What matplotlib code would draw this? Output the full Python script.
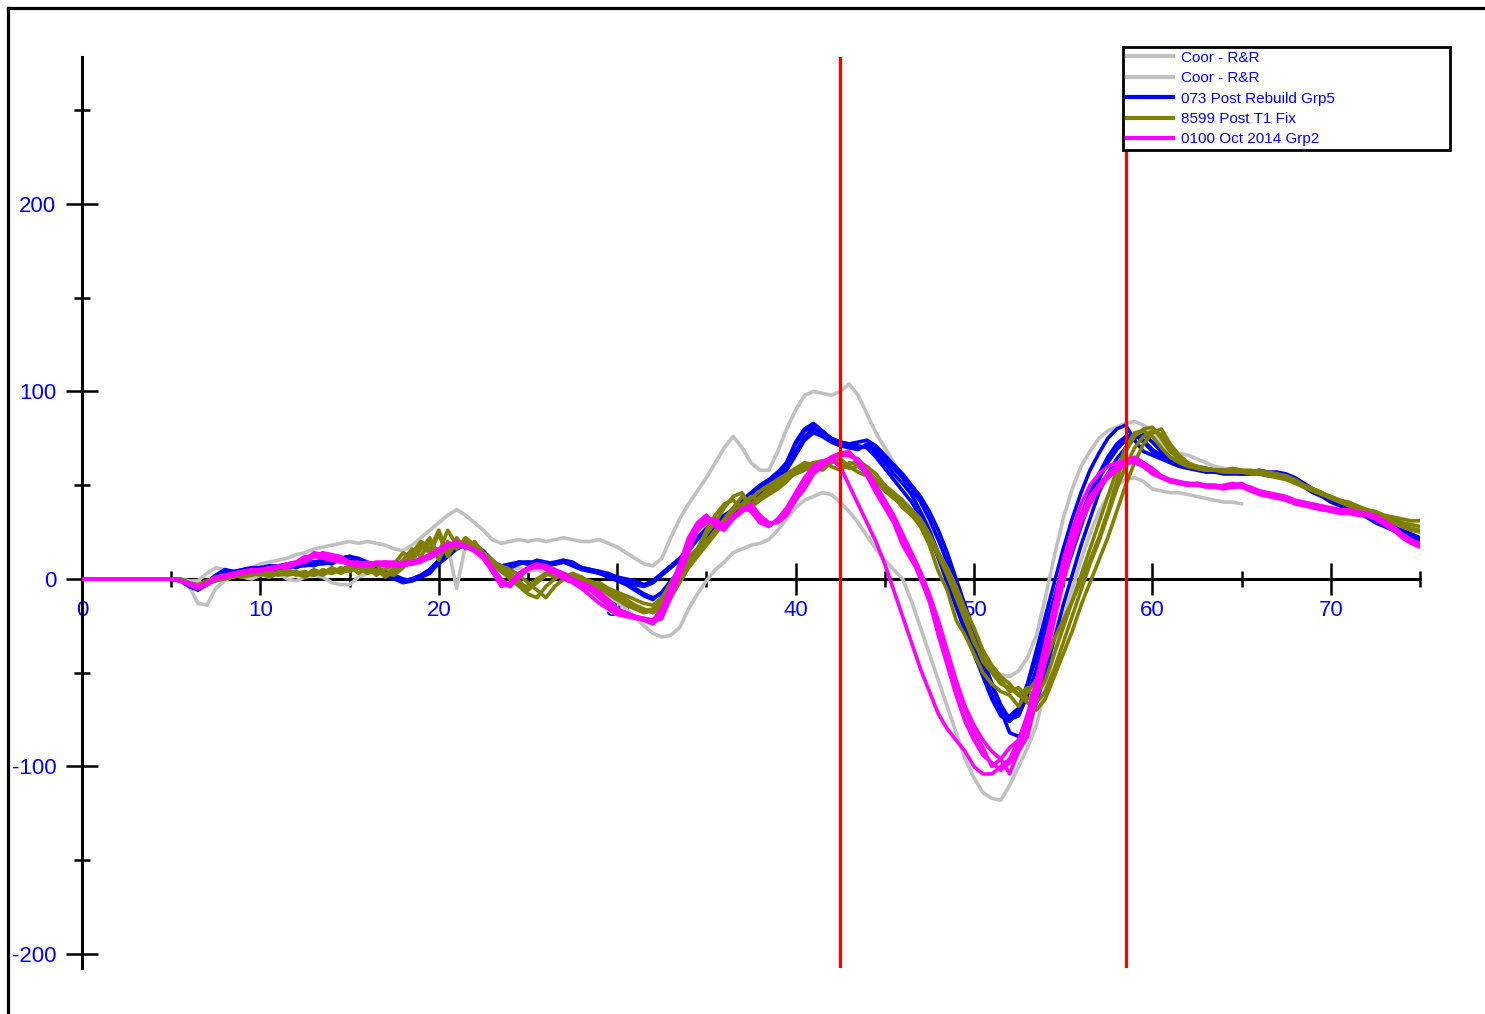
import numpy as np
import matplotlib
matplotlib.use('Agg')
import matplotlib.pyplot as plt
from matplotlib.lines import Line2D
from matplotlib.ticker import MultipleLocator, FormatStrFormatter

plt.rcParams['font.family'] = ['Liberation Sans', 'DejaVu Sans']
plt.rcParams['axes.unicode_minus'] = False

# ---------------- data (values sampled every 0.5 from x = 5; flat 0 before) -------------
X_START = 5.0
X_STEP = 0.5

LABELS = ["Coor - R&R", "Coor - R&R", "073 Post Rebuild Grp5", "8599 Post T1 Fix", "0100 Oct 2014 Grp2"]
COLORS = ["#c0c0c0", "#c0c0c0", "#0000ff", "#808000", "#ff00ff"]

coor_upper = [
    0, 0, -1, -1, 3, 6, 5, 4, 5, 6,
    8, 9, 10, 11, 13, 14, 16, 17, 18, 19,
    20, 19, 20, 19, 18, 16, 15, 18, 22, 26,
    30, 34, 37, 34, 30, 26, 21, 19, 20, 21,
    20, 21, 20, 21, 22, 21, 20, 20, 21, 19,
    17, 14, 11, 8, 7, 11, 22, 32, 40, 47,
    54, 62, 70, 76, 70, 62, 58, 58, 68, 80,
    90, 98, 100, 99, 98, 100, 104, 98, 88, 78,
    70, 62, 54, 45, 36, 28, 21, 8, -8, -24,
    -36, -45, -49, -51, -52, -49, -42, -30, -10, 12,
    32, 48, 60, 68, 75, 79, 81, 83, 84, 82,
    78, 72, 68, 67, 66, 64, 62, 60, 59, 58,
    58, 57]

coor_lower = [
    0, -1, -4, -13, -14, -5, -1, 2, 1, 0,
    2, 1, 3, 0, -1, 1, 2, 1, -2, -3,
    -3, 1, 3, 5, 7, 9, 11, 13, 14, 16,
    16, 18, -5, 18, 14, 10, 6, 4, 5, 6,
    4, 5, 3, 4, 2, 0, -2, -4, -7, -10,
    -12, -16, -20, -25, -29, -31, -30, -26, -16, -8,
    -1, 5, 9, 14, 16, 18, 19, 21, 26, 32,
    38, 42, 44, 46, 45, 41, 36, 30, 23, 16,
    10, 5, 0, -12, -26, -40, -54, -68, -82, -96,
    -106, -114, -117, -118, -110, -100, -90, -78, -58, -40,
    -22, -6, 10, 24, 36, 44, 50, 53, 54, 52,
    48, 47, 46, 46, 45, 44, 43, 42, 41, 41,
    40]

blue_1 = [
    0, -1, -3, -5, -2, 2, 4, 3, 4, 5,
    5, 6, 5, 7, 6, 8, 7, 9, 8, 11,
    12, 9, 7, 5, 3, 1, -1, 0, 2, 5,
    10, 14, 17, 19, 17, 13, 8, 6, 7, 9,
    8, 9, 7, 8, 9, 7, 5, 4, 3, 2,
    0, -1, -3, -4, -2, 2, 6, 10, 15, 21,
    27, 30, 33, 36, 41, 45, 48, 51, 56, 62,
    72, 79, 81, 78, 74, 72, 71, 70, 71, 67,
    62, 56, 51, 45, 36, 26, 14, 1, -12, -24,
    -36, -48, -62, -72, -73, -69, -56, -42, -26, -10,
    7, 20, 34, 46, 56, 65, 72, 76, 77, 73,
    68, 65, 63, 61, 60, 59, 58, 58, 57, 57,
    56, 56, 57, 56, 56, 55, 53, 50, 47, 45,
    42, 40, 38, 36, 34, 31, 29, 27, 25, 23,
    21]

blue_2 = [
    0, -1, -4, -6, -3, 1, 3, 4, 3, 4,
    4, 5, 6, 6, 7, 7, 8, 8, 9, 10,
    11, 10, 8, 6, 4, 2, 0, -1, 1, 4,
    8, 12, 16, 18, 18, 14, 9, 5, 6, 8,
    9, 8, 8, 9, 10, 8, 6, 5, 4, 2,
    1, -2, -5, -8, -10, -8, -3, 2, 8, 14,
    20, 26, 30, 34, 38, 42, 46, 50, 54, 58,
    66, 74, 78, 76, 73, 71, 70, 69, 72, 69,
    64, 59, 54, 48, 41, 32, 21, 9, -4, -17,
    -30, -43, -56, -67, -75, -73, -62, -48, -32, -16,
    0, 14, 28, 42, 53, 62, 69, 74, 77, 74,
    69, 66, 63, 61, 60, 59, 59, 58, 58, 58,
    57, 57, 57, 57, 57, 56, 54, 51, 48, 46,
    43, 41, 39, 37, 35, 32, 30, 28, 26, 24,
    22]

blue_3 = [
    0, 0, -2, -5, -2, 2, 5, 4, 5, 6,
    6, 7, 7, 8, 8, 9, 9, 10, 10, 11,
    12, 11, 9, 6, 3, 1, -1, 0, 2, 5,
    10, 14, 17, 19, 17, 13, 9, 7, 8, 9,
    8, 10, 9, 8, 9, 8, 6, 5, 4, 3,
    1, 0, -1, -3, -1, 3, 7, 11, 16, 22,
    27, 31, 34, 37, 42, 46, 50, 53, 57, 62,
    73, 80, 83, 79, 75, 73, 72, 71, 70, 65,
    59, 53, 47, 41, 33, 23, 11, -2, -15, -28,
    -40, -52, -64, -73, -76, -70, -56, -38, -20, -2,
    16, 32, 46, 58, 67, 75, 80, 82, 74, 68,
    66, 64, 62, 60, 59, 58, 57, 57, 56, 56,
    56, 56, 56, 55, 55, 54, 52, 49, 46, 44,
    41, 39, 37, 35, 33, 30, 28, 26, 24, 22,
    20]

blue_4 = [
    0, -1, -3, -5, -3, 1, 3, 3, 4, 5,
    5, 5, 6, 7, 7, 8, 9, 9, 10, 11,
    12, 10, 7, 5, 2, 0, -2, -1, 1, 3,
    9, 13, 17, 19, 18, 15, 10, 6, 7, 9,
    9, 9, 8, 8, 10, 9, 6, 5, 3, 1,
    -1, -3, -6, -9, -11, -7, -1, 4, 10, 16,
    23, 28, 31, 35, 39, 43, 47, 51, 55, 59,
    68, 76, 80, 78, 75, 73, 72, 73, 74, 71,
    66, 61, 56, 50, 44, 36, 26, 14, 0, -14,
    -28, -42, -56, -70, -82, -84, -80, -66, -50, -32,
    -14, 2, 18, 32, 46, 56, 64, 70, 75, 77,
    73, 68, 65, 62, 61, 60, 59, 58, 58, 57,
    57, 57, 58, 57, 56, 55, 53, 50, 47, 45,
    42, 40, 38, 36, 34, 31, 29, 27, 25, 23,
    21]

olive_1 = [
    0, -1, -3, -4, -2, 0, 1, 2, 2, 3,
    3, 2, 4, 2, 3, 1, 4, 2, 5, 3,
    5, 7, 4, 8, 2, 6, 10, 16, 12, 20,
    14, 26, 18, 20, 16, 14, 10, 6, 3, -1,
    -6, -2, 2, 4, 1, 3, 1, -2, -4, -6,
    -10, -13, -15, -17, -16, -12, -4, 5, 10, 13,
    24, 30, 38, 44, 46, 38, 42, 45, 48, 52,
    57, 60, 62, 63, 60, 58, 62, 61, 58, 53,
    47, 44, 38, 34, 28, 18, 4, -6, -22, -30,
    -40, -50, -56, -60, -62, -68, -60, -54, -44, -32,
    -22, -12, -1, 10, 22, 36, 52, 68, 76, 80,
    81, 75, 68, 64, 61, 60, 59, 58, 58, 59,
    58, 57, 58, 56, 56, 55, 53, 50, 48, 46,
    43, 42, 40, 38, 37, 35, 33, 32, 30, 29,
    28]

olive_2 = [
    0, -1, -2, -4, -3, -1, 0, 1, 3, 2,
    3, 1, 3, 4, 2, 3, 2, 5, 3, 6,
    4, 6, 3, 5, 1, 4, 8, 12, 18, 14,
    24, 12, 20, 18, 15, 12, 9, 7, 5, 2,
    -2, -6, -10, -4, 0, 2, 0, -1, -3, -6,
    -8, -11, -14, -16, -18, -16, -10, -2, 6, 12,
    18, 24, 30, 36, 40, 44, 42, 46, 50, 54,
    56, 58, 60, 62, 64, 60, 61, 63, 60, 56,
    50, 46, 42, 37, 32, 24, 14, 4, -8, -20,
    -32, -44, -50, -56, -58, -62, -66, -70, -64, -52,
    -40, -28, -14, -2, 10, 22, 36, 50, 62, 72,
    78, 80, 72, 66, 62, 60, 59, 58, 58, 57,
    58, 58, 57, 57, 56, 54, 52, 49, 47, 45,
    43, 41, 39, 37, 36, 34, 32, 30, 28, 26,
    25]

olive_3 = [
    0, 0, -2, -3, -1, 1, 2, 1, 2, 3,
    2, 4, 3, 5, 3, 4, 2, 4, 3, 5,
    7, 3, 6, 2, 5, 8, 14, 10, 16, 22,
    10, 20, 16, 22, 18, 12, 8, 4, 0, -4,
    -8, -10, -4, 0, 3, 1, -1, -3, -2, -5,
    -7, -9, -11, -13, -14, -10, -2, 6, 12, 16,
    26, 34, 40, 42, 38, 43, 47, 50, 53, 56,
    59, 62, 61, 58, 62, 64, 60, 57, 55, 52,
    48, 44, 40, 35, 30, 22, 12, 2, -10, -22,
    -34, -42, -48, -54, -60, -58, -64, -62, -54, -40,
    -26, -12, 2, 16, 30, 44, 58, 70, 78, 79,
    76, 70, 65, 62, 60, 59, 58, 58, 57, 57,
    57, 56, 56, 55, 54, 53, 51, 49, 47, 45,
    44, 42, 41, 39, 37, 36, 34, 33, 32, 31,
    31]

olive_4 = [
    0, -1, -3, -5, -2, 0, 1, 2, 1, 2,
    4, 3, 2, 3, 4, 2, 5, 3, 6, 4,
    5, 8, 6, 4, 3, 2, 6, 14, 20, 16,
    26, 14, 22, 16, 20, 14, 10, 6, 2, -3,
    -4, 0, 3, 1, 2, -1, 1, -2, -5, -8,
    -11, -14, -16, -18, -17, -14, -6, 2, 8, 14,
    20, 26, 32, 38, 44, 40, 44, 48, 51, 54,
    57, 59, 62, 60, 63, 61, 59, 60, 57, 52,
    47, 43, 39, 36, 30, 22, 14, 6, -4, -16,
    -26, -38, -46, -52, -56, -62, -58, -66, -60, -48,
    -34, -20, -6, 8, 20, 34, 48, 60, 70, 76,
    79, 77, 70, 64, 61, 59, 58, 58, 58, 57,
    57, 57, 57, 56, 55, 54, 52, 50, 48, 46,
    44, 42, 40, 38, 36, 34, 33, 31, 29, 27,
    26]

magenta_1 = [
    0, -1, -3, -5, -3, 0, 2, 3, 4, 4,
    5, 5, 6, 7, 8, 9, 12, 14, 13, 12,
    9, 8, 8, 9, 9, 8, 8, 9, 10, 12,
    15, 19, 18, 17, 16, 12, 5, -2, -4, 2,
    6, 8, 5, 3, 0, -2, -5, -9, -13, -16,
    -19, -20, -21, -22, -24, -18, -6, 4, 18, 28,
    32, 30, 27, 33, 37, 39, 32, 29, 31, 36,
    44, 50, 57, 62, 65, 67, 68, 62, 55, 46,
    38, 30, 18, 10, 2, -12, -30, -46, -62, -76,
    -86, -94, -98, -102, -98, -90, -78, -58, -38, -16,
    3, 20, 32, 42, 50, 56, 60, 63, 65, 62,
    58, 55, 52, 51, 50, 51, 50, 50, 49, 50,
    51, 48, 46, 45, 44, 43, 41, 40, 39, 38,
    37, 36, 36, 35, 35, 33, 30, 27, 23, 20,
    18]

magenta_2 = [
    0, -1, -3, -5, -2, 0, 2, 2, 3, 5,
    5, 6, 6, 8, 9, 11, 13, 12, 11, 10,
    8, 7, 7, 8, 8, 7, 7, 8, 10, 11,
    14, 17, 19, 18, 15, 11, 4, -3, -3, 1,
    5, 7, 6, 4, 1, -1, -4, -6, -10, -14,
    -17, -19, -20, -21, -22, -16, -4, 8, 22, 30,
    34, 28, 26, 32, 38, 36, 30, 28, 32, 38,
    46, 54, 60, 63, 64, 60, 50, 40, 30, 20,
    8, -6, -20, -34, -48, -60, -72, -80, -86, -92,
    -100, -104, -104, -100, -96, -86, -72, -54, -34, -14,
    10, 26, 40, 50, 56, 60, 62, 63, 62, 60,
    56, 54, 52, 51, 51, 50, 50, 49, 50, 51,
    50, 49, 47, 46, 45, 44, 42, 41, 40, 39,
    38, 37, 37, 36, 35, 34, 31, 28, 24, 21,
    19]

magenta_3 = [
    0, -1, -2, -4, -3, 0, 1, 3, 4, 5,
    4, 6, 7, 6, 8, 10, 14, 13, 11, 10,
    9, 9, 7, 8, 9, 9, 8, 8, 9, 12,
    14, 18, 20, 17, 15, 13, 6, 0, -4, 3,
    6, 8, 7, 5, 2, 0, -2, -4, -7, -11,
    -16, -18, -20, -21, -22, -19, -8, 3, 16, 26,
    33, 31, 29, 32, 36, 40, 34, 30, 30, 34,
    42, 48, 56, 60, 64, 66, 66, 64, 58, 50,
    42, 34, 24, 14, 4, -8, -22, -38, -54, -68,
    -78, -86, -92, -96, -90, -86, -74, -56, -36, -14,
    6, 22, 34, 44, 50, 54, 58, 61, 63, 62,
    59, 55, 53, 52, 51, 51, 50, 50, 49, 49,
    50, 48, 46, 45, 44, 43, 41, 40, 38, 37,
    36, 35, 35, 34, 34, 32, 29, 26, 22, 19,
    17]

magenta_4 = [
    0, -1, -3, -4, -2, 1, 2, 3, 3, 4,
    5, 5, 6, 8, 9, 12, 12, 11, 10, 9,
    8, 8, 9, 8, 7, 8, 9, 9, 11, 13,
    16, 18, 19, 18, 15, 11, 4, -4, -2, 3,
    6, 6, 7, 5, 3, 0, -3, -5, -8, -12,
    -16, -18, -20, -22, -23, -21, -10, 2, 14, 26,
    30, 32, 28, 34, 36, 38, 33, 28, 32, 35,
    42, 50, 58, 61, 65, 67, 66, 63, 56, 48,
    40, 32, 22, 12, 0, -12, -26, -40, -56, -70,
    -82, -90, -100, -96, -104, -92, -84, -64, -44, -22,
    -2, 16, 30, 40, 48, 54, 58, 62, 64, 60,
    57, 54, 52, 51, 50, 50, 49, 49, 48, 49,
    49, 47, 45, 44, 43, 42, 40, 39, 38, 37,
    37, 36, 36, 35, 34, 32, 30, 27, 23, 20,
    18]

GROUPS = [
    ([coor_upper], 0),
    ([coor_lower], 1),
    ([blue_1, blue_2, blue_3, blue_4], 2),
    ([olive_1, olive_2, olive_3, olive_4], 3),
    ([magenta_1, magenta_2, magenta_3, magenta_4], 4),
]

X_TICK_MAJOR = 10
X_TICK_MINOR = 5
Y_TICK_MAJOR = 100
Y_TICK_MINOR = 50
CURSORS = [42.5, 58.5]

# ---------------- figure ----------------
W, H = 1485, 1014
fig = plt.figure(figsize=(W / 100, H / 100), dpi=100)
ax = fig.add_axes([82 / W, 46 / H, 1338 / W, 911 / H])
ax.set_xlim(0, 75)
ax.set_ylim(-207.5, 278.4)


def series_xy(vals):
    x = np.concatenate([[0.0], X_START + X_STEP * np.arange(len(vals))])
    y = np.concatenate([[0.0], np.asarray(vals, dtype=float)])
    return x, y


LW = 2.6
for curves, ci in GROUPS:
    for vals in curves:
        x, y = series_xy(vals)
        ax.plot(x, y, color=COLORS[ci], lw=LW, zorder=3,
                solid_joinstyle='round', solid_capstyle='round')

for xc in CURSORS:
    ax.axvline(xc, color='#ff0000', lw=2.3, zorder=4)

# axes styling
for s in ['top', 'right']:
    ax.spines[s].set_visible(False)
ax.spines['bottom'].set_position(('data', 0))
ax.spines['bottom'].set_linewidth(2.2)
ax.spines['left'].set_linewidth(2.2)
ax.patch.set_alpha(0)

ax.xaxis.set_major_locator(MultipleLocator(X_TICK_MAJOR))
ax.xaxis.set_minor_locator(MultipleLocator(X_TICK_MINOR))
ax.yaxis.set_major_locator(MultipleLocator(Y_TICK_MAJOR))
ax.yaxis.set_minor_locator(MultipleLocator(Y_TICK_MINOR))
ax.xaxis.set_major_formatter(FormatStrFormatter('%d'))
ax.yaxis.set_major_formatter(FormatStrFormatter('%d'))

ax.tick_params(which='major', direction='inout', length=23, width=1.8,
               labelsize=16, labelcolor='#0000ff', color='black')
ax.tick_params(which='minor', direction='inout', length=12, width=1.8, color='black')
ax.tick_params(axis='x', which='major', pad=4)
ax.tick_params(axis='y', which='major', pad=7)

# outer frame (top and left)
fig.add_artist(Line2D([8 / W, 8 / W], [0, 1 - 8 / H], transform=fig.transFigure,
                      color='black', lw=2.3))
fig.add_artist(Line2D([8 / W, 1], [1 - 8 / H, 1 - 8 / H], transform=fig.transFigure,
                      color='black', lw=2.3))

# legend
handles = [Line2D([], [], color=COLORS[i], lw=3) for i in range(len(LABELS))]
leg = fig.legend(handles, LABELS, loc='upper left',
                 bbox_to_anchor=(1123 / W, 1 - 47 / H, 327 / W, 0.0),
                 bbox_transform=fig.transFigure, mode='expand',
                 borderaxespad=0, fontsize=11, labelcolor='#0000ff',
                 handlelength=3.0, handletextpad=0.55, labelspacing=0.42,
                 borderpad=0.25, fancybox=False, framealpha=1, edgecolor='black')
leg.get_frame().set_linewidth(2.0)

fig.savefig('out.png', dpi=100)
